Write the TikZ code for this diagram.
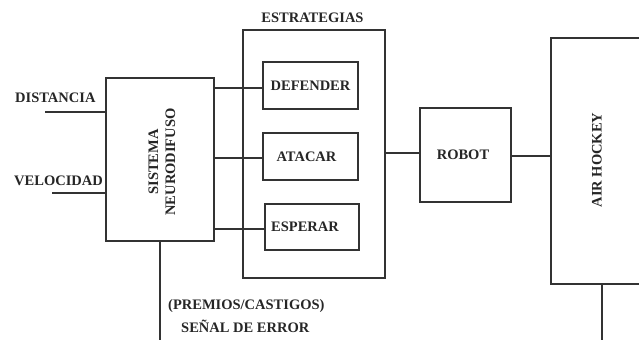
\documentclass[tikz,border=0pt]{standalone}
\usepackage{fontspec}
\setmainfont{Liberation Serif}
\begin{document}
\begin{tikzpicture}[x=1pt,y=-1pt,
  box/.style={draw=black!80,line width=1.6pt,rectangle,inner sep=0pt},
  lbl/.style={font=\fontsize{14.5}{17}\selectfont\bfseries,inner sep=0pt,text=black!85},
  wire/.style={draw=black!80,line width=1.6pt}]
\useasboundingbox (0,0) rectangle (639,340);
\clip (0,0) rectangle (639,340);
% main boxes
\node[box,minimum width=108pt,minimum height=163pt] (neuro) at (160,159.5) {};
\node[lbl,rotate=90,align=center] (neurotxt) at (162,162) {SISTEMA\\NEURODIFUSO};
\node[box,minimum width=142pt,minimum height=248pt] (estr) at (314,154) {};
\node[lbl] (estrtxt) at (312.5,18) {ESTRATEGIAS};
\node[box,lbl,minimum width=95pt,minimum height=47pt] (def) at (310.5,85.5) {DEFENDER};
\node[box,lbl,minimum width=95pt,minimum height=47pt] (ata) at (310.5,156.5) {\hspace*{-8pt}ATACAR};
\node[box,lbl,minimum width=94pt,minimum height=46pt] (esp) at (312,227) {\hspace*{-14pt}ESPERAR};
\node[box,lbl,minimum width=91pt,minimum height=94pt] (robot) at (465.5,155) {\hspace*{-5pt}ROBOT};
\node[box,minimum width=100pt,minimum height=246pt] (air) at (601,161) {};
\node[lbl,rotate=90] (airtxt) at (597,160) {AIR HOCKEY};
% inputs
\node[lbl,anchor=west] (dist) at (15,98) {DISTANCIA};
\node[lbl,anchor=west] (velo) at (14,181) {VELOCIDAD};
\coordinate (din) at (45,112);
\coordinate (vin) at (52,193);
\draw[wire] (din) -- (din -| neuro.west);
\draw[wire] (vin) -- (vin -| neuro.west);
% to strategies
\coordinate (y1) at (0,88);
\coordinate (y2) at (0,158);
\coordinate (y3) at (0,229);
\draw[wire] (neuro.east |- y1) -- (def.west |- y1);
\draw[wire] (neuro.east |- y2) -- (ata.west |- y2);
\draw[wire] (neuro.east |- y3) -- (esp.west |- y3);
% to robot and air hockey
\draw[wire] (estr.east |- 0,153) -- (robot.west |- 0,153);
\draw[wire] (robot.east |- 0,156) -- (air.west |- 0,156);
% feedback lines
\coordinate (nbot) at (160,340);
\draw[wire] (neuro.south) -- (nbot);
\coordinate (abot) at (602,340);
\draw[wire] (air.south -| abot) -- (abot);
% error label
\node[lbl,anchor=west] (prem) at (168,306) {(PREMIOS/CASTIGOS)};
\node[lbl,anchor=west] (senal) at (181,326) {SEÑAL DE ERROR};
\end{tikzpicture}
\end{document}
